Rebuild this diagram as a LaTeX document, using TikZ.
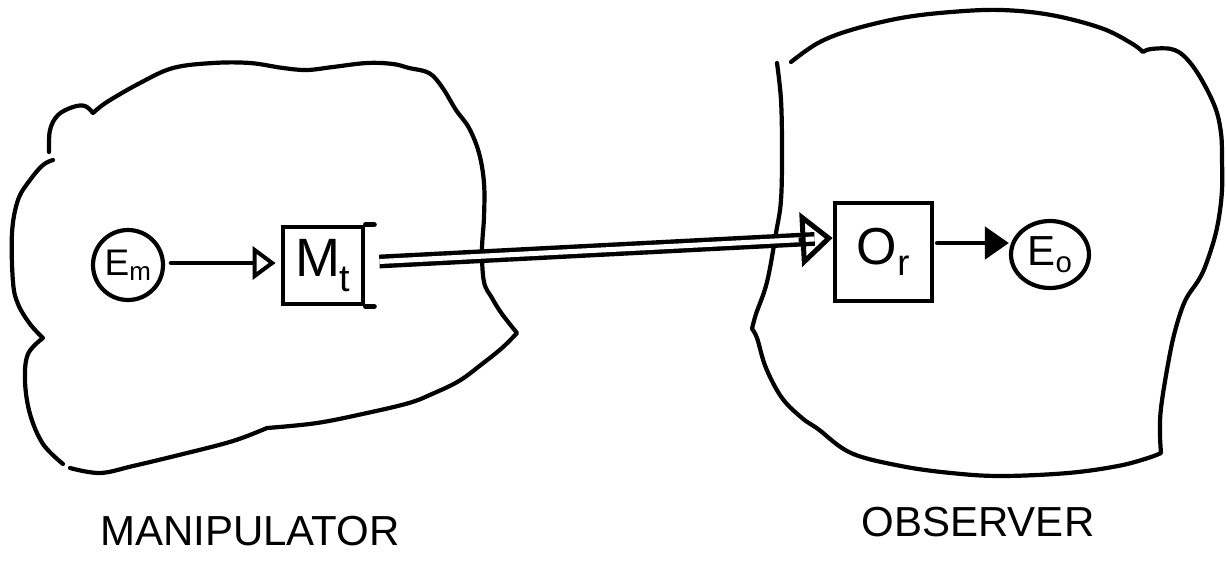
\documentclass[tikz,border=0pt]{standalone}
\usepackage{fontspec}
\setmainfont{Liberation Sans}
\usetikzlibrary{arrows.meta,calc,shapes.geometric}
\begin{document}
\begin{tikzpicture}[x=1pt,y=-1pt,
  blob/.style={line width=4.2pt,line cap=round,line join=round},
  envnode/.style={draw,line width=4.2pt,inner sep=0pt},
  boxnode/.style={draw,rectangle,line width=4.8pt,inner sep=0pt},
  conn/.style={line width=4.8pt,line cap=round},
  dblline/.style={line width=4.4pt,double=white,double distance=5pt},
  caption/.style={font=\fontsize{42}{42}\selectfont}]
\useasboundingbox (0,0) rectangle (1226,563);
\fill[white] (0,0) rectangle (1226,563);

% Manipulator outline
\draw[blob] plot[smooth,tension=0.6] coordinates {(49,152) (50,130) (58,115) (73,107) (85,106) (93,113)}
  -- plot[smooth,tension=0.6] coordinates {(93,113) (107,102) (140,83) (173,68) (213,63) (250,63) (283,68) (307,70) (333,67) (367,63) (393,64) (409,68) (429,73) (442,87) (456,110) (469,128) (479,153) (484,183) (484,217) (482,250) (484,282) (492,298) (502,314) (517,333)}
  -- plot[smooth,tension=0.6] coordinates {(517,333) (502,348) (482,364) (459,381) (432,394) (409,403) (367,413) (317,423) (267,428)}
  -- plot[smooth,tension=0.6] coordinates {(267,428) (233,441) (183,454) (133,466) (100,473) (70,468)};
\draw[blob] plot[smooth,tension=0.6] coordinates {(63,464) (43,444) (30,414) (25,381) (28,354) (43,338)}
  -- plot[smooth,tension=0.6] coordinates {(43,338) (30,324) (18,304) (13,282) (12,233) (18,200) (30,180) (43,165) (53,160)};

% Observer outline
\draw[blob] plot[smooth,tension=0.6] coordinates {(777,63) (781,100) (782,150) (781,200) (776,233) (767,282) (756,314) (752,329)}
  -- plot[smooth,tension=0.6] coordinates {(752,329) (757,338) (766,368) (782,398) (802,418) (818,429) (851,453) (901,466) (951,473) (1001,476) (1068,473) (1118,466) (1148,458) (1161,453)}
  -- plot[smooth,tension=0.6] coordinates {(1161,453) (1160,434) (1161,408) (1168,364) (1175,331) (1185,301) (1198,281) (1205,267) (1214,240) (1219,217) (1222,190) (1222,160) (1221,133) (1215,107) (1200,77) (1185,57) (1171,49) (1151,49) (1143,52)}
  -- plot[smooth,tension=0.6] coordinates {(1143,52) (1131,43) (1101,28) (1051,15) (1001,10) (951,12) (901,18) (851,30) (818,43) (791,62)};

% nodes
\node[envnode,circle,minimum size=70pt,font=\fontsize{37}{37}\selectfont] (Em) at (128,265) {E\textsubscript{m}};
\node[boxnode,minimum width=80pt,minimum height=77pt,font=\fontsize{54}{54}\selectfont] (Mt) at (323,265.5) {M\textsubscript{t}};
\node[boxnode,minimum width=97pt,minimum height=98pt,font=\fontsize{52}{52}\selectfont] (Or) at (883.5,252) {O\textsubscript{r}};
\node[envnode,ellipse,minimum width=78pt,minimum height=67pt,font=\fontsize{42}{42}\selectfont] (Eo) at (1050,254.5) {E\textsubscript{o}};

% box ticks
\draw[conn] (Mt.north east) -- ++(9,0);
\draw[conn] (Mt.south east) -- ++(9,0);

% connectors
\draw[conn,shorten <=6pt,shorten >=5pt,-{Triangle[open,length=23pt,width=33pt,line width=4pt]}] ([yshift=2pt]Em.east) -- ([yshift=2pt]Em.east -| Mt.west);
\coordinate (d1) at ([xshift=14pt,yshift=4pt]Mt.east);
\coordinate (d2) at ([yshift=14pt]Or.west);
\draw[dblline,shorten >=18pt] (d1) -- (d2);
\draw[line width=4.5pt,-{Triangle[open,length=32pt,width=54pt,line width=5pt]}] ($(d2)!34pt!(d1)$) -- (d2);
\draw[conn,shorten <=3pt,-{Triangle[length=24pt,width=32pt]}] ([yshift=9pt]Or.east) -- ([yshift=9pt]Or.east -| Eo.west);

% captions
\node[caption] (man) at (250,531) {MANIPULATOR};
\node[caption] (obs) at (978,522) {OBSERVER};
\end{tikzpicture}
\end{document}
